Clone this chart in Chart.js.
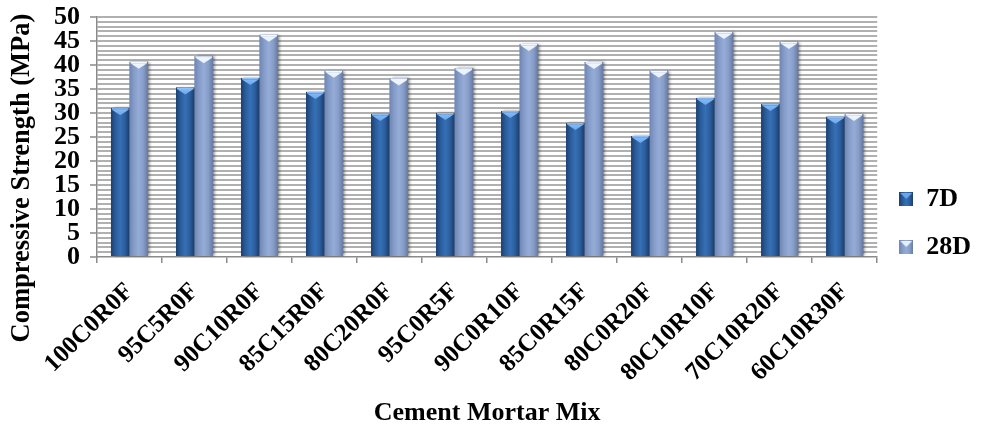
<!DOCTYPE html>
<html>
<head>
<meta charset="utf-8">
<script src="https://cdn.jsdelivr.net/npm/chart.js@4/dist/chart.umd.min.js"></script>
<style>
  html, body { margin: 0; padding: 0; background: #ffffff; }
  #wrap { width: 984px; height: 429px; position: relative; }
</style>
</head>
<body>
<div id="wrap"><canvas id="chart" width="984" height="429"></canvas></div>
<script>
// Mortar mixes (cement / rubber / fly-ash replacement, %)
const mixes = ['100C0R0F', '95C5R0F', '90C10R0F', '85C15R0F', '80C20R0F', '95C0R5F',
               '90C0R10F', '85C0R15F', '80C0R20F', '80C10R10F', '70C10R20F', '60C10R30F'];

// Compressive strength in MPa
const strength7D  = [31.0, 35.3, 37.3, 34.4, 29.8, 30.0, 30.4, 27.9, 25.2, 33.1, 31.9, 29.2];
const strength28D = [40.7, 41.8, 46.3, 38.8, 37.2, 39.3, 44.4, 40.6, 38.8, 46.9, 44.8, 29.8];

const seriesNames = ['7D', '28D'];
const yTicks = [0, 5, 10, 15, 20, 25, 30, 35, 40, 45, 50];
const yTitle = 'Compressive Strength (MPa)';
const xTitle = 'Cement Mortar Mix';

const SERIF = '"Liberation Serif", "Times New Roman", serif';

// Shading for the two bar series: edge-centre-edge gradient and a bevel cap
const SKINS = [
  { stops: ['#1c3f70', '#2b5d9c', '#3670b7', '#2c5e9e', '#1a3b69'], cap: '#6aa6ec', band: '#8cc0f7' },
  { stops: ['#6f86b3', '#869dca', '#94acd6', '#869dc9', '#66799f'], cap: '#e6f0fd', band: '#f4f8ff' }
];

function legendSwatch(skin) {
  const c = document.createElement('canvas');
  c.width = 14; c.height = 14;
  const g = c.getContext('2d');
  const grad = g.createLinearGradient(0, 0, 14, 0);
  skin.stops.forEach((s, i) => grad.addColorStop(i / (skin.stops.length - 1), s));
  g.fillStyle = grad;
  g.fillRect(0, 0, 14, 14);
  g.fillStyle = skin.cap;
  g.beginPath();
  g.moveTo(1, 1); g.lineTo(13, 1); g.lineTo(7, 7); g.closePath();
  g.fill();
  return c;
}

const barSkin = {
  id: 'barSkin',
  afterDatasetsDraw(chart) {
    const ctx = chart.ctx;
    const area = chart.chartArea;
    ctx.save();
    ctx.beginPath();
    ctx.rect(area.left, area.top - 2, area.right - area.left + 6, area.bottom - area.top + 2);
    ctx.clip();
    chart.data.datasets.forEach((ds, di) => {
      const meta = chart.getDatasetMeta(di);
      if (!chart.isDatasetVisible(di)) return;
      const skin = SKINS[di];
      meta.data.forEach(bar => {
        const p = bar.getProps(['x', 'y', 'base', 'width'], true);
        const l = p.x - p.width / 2, r = p.x + p.width / 2;
        const top = Math.min(p.y, p.base), h = Math.abs(p.base - p.y);
        const grad = ctx.createLinearGradient(l, 0, r, 0);
        skin.stops.forEach((s, i) => grad.addColorStop(i / (skin.stops.length - 1), s));
        ctx.save();
        ctx.shadowColor = 'rgba(40,40,40,0.55)';
        ctx.shadowBlur = 3;
        ctx.shadowOffsetX = 2;
        ctx.shadowOffsetY = 0;
        ctx.fillStyle = grad;
        ctx.fillRect(l, top, p.width, h);
        ctx.restore();
        // bevelled top
        ctx.fillStyle = skin.band;
        ctx.fillRect(l + 1, top, p.width - 2, 1.5);
        const capGrad = ctx.createLinearGradient(0, top, 0, top + 7);
        capGrad.addColorStop(0, skin.band);
        capGrad.addColorStop(1, skin.cap);
        ctx.fillStyle = capGrad;
        ctx.beginPath();
        ctx.moveTo(l + 1, top + 1.5);
        ctx.lineTo(r - 1, top + 1.5);
        ctx.lineTo(p.x, top + 7);
        ctx.closePath();
        ctx.fill();
      });
    });
    ctx.restore();
  }
};

// Vertical axis title, set lower than the axis midpoint
const sideTitle = {
  id: 'sideTitle',
  afterDraw(chart) {
    const ctx = chart.ctx;
    ctx.save();
    ctx.translate(22, 178);
    ctx.rotate(-Math.PI / 2);
    ctx.font = 'bold 26.5px ' + SERIF;
    ctx.fillStyle = '#000';
    ctx.textAlign = 'center';
    ctx.textBaseline = 'middle';
    ctx.fillText(yTitle, 0, 0);
    ctx.restore();
  }
};

const config = {
  type: 'bar',
  data: {
    labels: mixes,
    datasets: [
      { label: seriesNames[0], data: strength7D, backgroundColor: '#2f64a8', borderWidth: 0,
        pointStyle: legendSwatch(SKINS[0]) },
      { label: seriesNames[1], data: strength28D, backgroundColor: '#8aa2ce', borderWidth: 0,
        pointStyle: legendSwatch(SKINS[1]) }
    ]
  },
  options: {
    responsive: false,
    animation: false,
    events: [],
    datasets: { bar: { categoryPercentage: 0.57, barPercentage: 1.0 } },
    layout: { padding: { top: 17, right: 3, left: 0, bottom: 0 } },
    plugins: {
      tooltip: { enabled: false },
      legend: {
        position: 'right',
        align: 'center',
        labels: {
          usePointStyle: true,
          boxWidth: 14,
          padding: 22,
          color: '#000',
          font: { family: SERIF, size: 26, weight: 'bold' }
        }
      }
    },
    scales: {
      x: {
        grid: {
          offset: true,
          drawOnChartArea: false,
          drawTicks: true,
          tickLength: 6,
          tickColor: '#8a8a8a',
          lineWidth: 1.5
        },
        border: { display: true, color: '#8a8a8a', width: 1.5 },
        ticks: {
          minRotation: 45,
          maxRotation: 45,
          autoSkip: false,
          padding: 14,
          color: '#000',
          font: { family: SERIF, size: 25, weight: 'bold' }
        },
        title: {
          display: true,
          text: xTitle,
          color: '#000',
          padding: { top: 0, bottom: 0 },
          font: { family: SERIF, size: 26, weight: 'bold' }
        },
        afterFit(scale) { scale.height = 172; }
      },
      y: {
        min: 0,
        max: 50,
        ticks: {
          stepSize: 1,
          autoSkip: false,
          padding: 10,
          color: '#000',
          font: { family: SERIF, size: 26, weight: 'bold' },
          callback: v => (yTicks.includes(v) ? String(v) : '')
        },
        grid: {
          color: ctx => (ctx.tick && ctx.tick.value === 0 ? 'rgba(0,0,0,0)' : '#b0b0b0'),
          lineWidth: 2,
          tickLength: 7,
          tickColor: ctx => (ctx.tick && yTicks.includes(ctx.tick.value) ? '#8a8a8a' : 'rgba(0,0,0,0)'),
          tickWidth: 1.5
        },
        border: { display: true, color: '#8a8a8a', width: 1.5 },
        title: { display: false, text: yTitle },
        afterFit(scale) {
          scale.width = 97;
          scale.paddingTop = 0;
          scale.paddingBottom = 0;
        }
      }
    }
  },
  plugins: [barSkin, sideTitle]
};

new Chart(document.getElementById('chart'), config);
</script>
</body>
</html>
